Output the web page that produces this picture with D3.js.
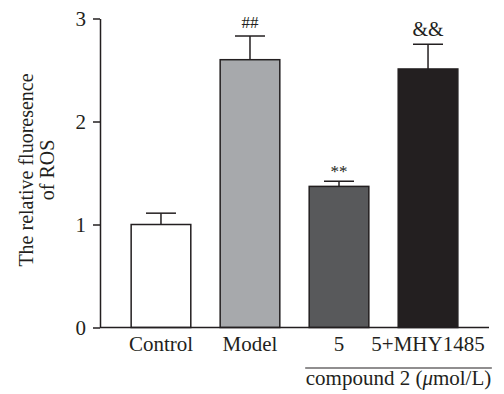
<!DOCTYPE html>
<html>
<head>
<meta charset="utf-8">
<script src="https://cdn.jsdelivr.net/npm/d3@7"></script>
<style>
  body { margin: 0; background: #fff; }
</style>
</head>
<body>
<div id="chart"></div>
<script>
// data
const groups = ["Control", "Model", "5", "5+MHY1485"];
const means = [1.0, 2.60, 1.37, 2.51];
const errors = [0.11, 0.23, 0.05, 0.24];
const marks = ["", "##", "**", "&&"];
const fills = ["#ffffff", "#a7a9ac", "#58595b", "#231f20"];
const yTicks = [0, 1, 2, 3];

const width = 504, height = 394;
const ink = "#231f20";
const serif = "'Liberation Serif', 'Times New Roman', serif";

const svg = d3.select("#chart").append("svg")
    .attr("width", width)
    .attr("height", height)
    .style("font-family", serif);

const x = d3.scaleBand()
    .domain(groups)
    .range([100, 489])
    .paddingInner(0.33)
    .paddingOuter(0.35);

const y = d3.scaleLinear()
    .domain([0, 3])
    .range([327.5, 18.5]);

// bars
svg.selectAll(".bar")
    .data(groups)
    .enter()
    .append("rect")
    .attr("class", "bar")
    .attr("x", d => x(d))
    .attr("y", (d, i) => y(means[i]))
    .attr("width", x.bandwidth())
    .attr("height", (d, i) => y(0) - y(means[i]))
    .attr("fill", (d, i) => fills[i])
    .attr("stroke", ink)
    .attr("stroke-width", 1.5);

// error bars (upper only)
const err = svg.selectAll(".err")
    .data(groups)
    .enter()
    .append("g")
    .attr("class", "err")
    .attr("stroke", ink)
    .attr("stroke-width", 1.5);

err.append("line")
    .attr("x1", d => x(d) + x.bandwidth() / 2)
    .attr("x2", d => x(d) + x.bandwidth() / 2)
    .attr("y1", (d, i) => y(means[i]))
    .attr("y2", (d, i) => y(means[i] + errors[i]));

err.append("line")
    .attr("x1", d => x(d) + x.bandwidth() / 2 - 15)
    .attr("x2", d => x(d) + x.bandwidth() / 2 + 15)
    .attr("y1", (d, i) => y(means[i] + errors[i]))
    .attr("y2", (d, i) => y(means[i] + errors[i]));

// significance marks
svg.selectAll(".mark")
    .data(groups)
    .enter()
    .append("text")
    .attr("class", "mark")
    .attr("x", d => x(d) + x.bandwidth() / 2)
    .attr("y", (d, i) => y(means[i] + errors[i]) - (i === 2 ? 4 : 8))
    .attr("text-anchor", "middle")
    .attr("fill", ink)
    .style("font-family", serif)
    .style("font-size", (d, i) => i === 3 ? "20px" : "17px")
    .text((d, i) => marks[i]);

// y axis
const yAxis = svg.append("g")
    .attr("transform", "translate(100,0)")
    .call(d3.axisLeft(y).tickValues(yTicks).tickFormat(d3.format("d")).tickSize(7).tickSizeOuter(0));
yAxis.attr("font-family", null);
yAxis.select(".domain").attr("stroke", ink).attr("stroke-width", 1.5);
yAxis.selectAll(".tick line").attr("stroke", ink).attr("stroke-width", 1.5);
yAxis.selectAll(".tick text")
    .attr("x", -14)
    .style("font-size", "21px")
    .style("font-family", serif)
    .attr("fill", ink);

// x baseline
svg.append("line")
    .attr("x1", 100)
    .attr("x2", 489)
    .attr("y1", y(0))
    .attr("y2", y(0))
    .attr("stroke", ink)
    .attr("stroke-width", 1.5);

// category labels
svg.selectAll(".cat")
    .data(groups)
    .enter()
    .append("text")
    .attr("class", "cat")
    .attr("x", d => x(d) + x.bandwidth() / 2)
    .attr("y", 351)
    .attr("text-anchor", "middle")
    .attr("fill", ink)
    .style("font-family", serif)
    .style("font-size", "21px")
    .text(d => d);

// bracket for compound 2 groups
const bx1 = x("5") - 4, bx2 = x("5+MHY1485") + x.bandwidth() + 34;
svg.append("line")
    .attr("x1", bx1)
    .attr("x2", bx2)
    .attr("y1", 368)
    .attr("y2", 368)
    .attr("stroke", ink)
    .attr("stroke-width", 1.2);

const comp = svg.append("text")
    .attr("x", (bx1 + bx2) / 2)
    .attr("y", 385)
    .attr("text-anchor", "middle")
    .attr("fill", ink)
    .style("font-family", serif)
    .style("font-size", "21px");
comp.append("tspan").text("compound 2 (");
comp.append("tspan").style("font-style", "italic").text("μ");
comp.append("tspan").text("mol/L)");

// y axis title
const yt = svg.append("text")
    .attr("transform", "translate(33,170) rotate(-90)")
    .attr("text-anchor", "middle")
    .attr("fill", ink)
    .style("font-family", serif)
    .style("font-size", "20px");
yt.append("tspan").attr("x", 0).attr("dy", 0).text("The relative fluoresence");
yt.append("tspan").attr("x", 0).attr("dy", 21).text("of ROS");
</script>
</body>
</html>
